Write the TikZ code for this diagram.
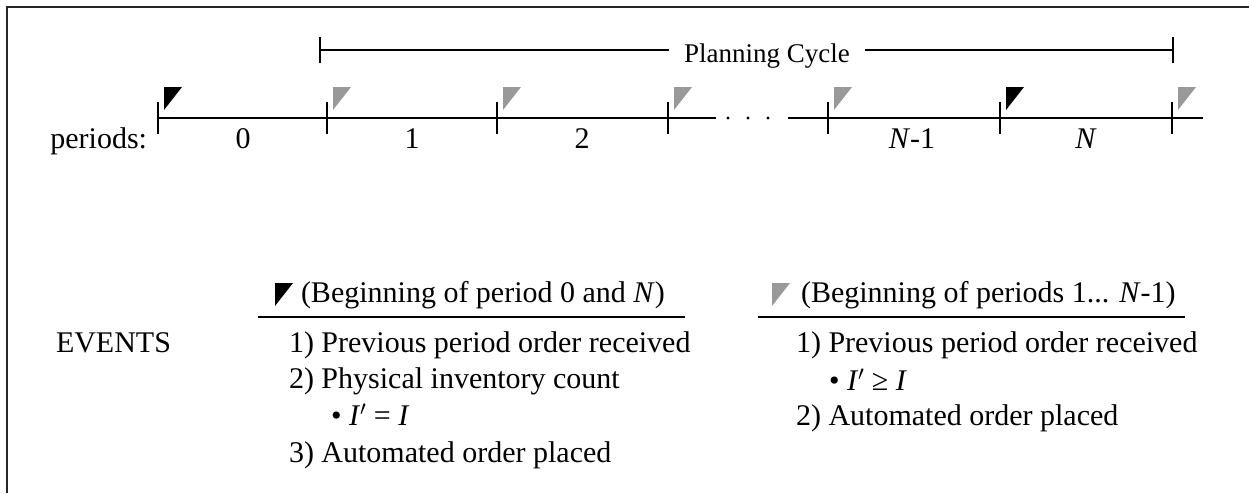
\documentclass[tikz,border=0pt]{standalone}
\usepackage{fontspec}
\setmainfont{Liberation Serif}
\usepackage{tikz}
\usetikzlibrary{positioning}

\begin{document}
\begin{tikzpicture}[x=1pt, y=-1pt, line width=2pt,
  every node/.style={font=\fontsize{30}{36}\selectfont, inner sep=0pt},
  tick/.style={line width=2.5pt},
  flagblack/.style={fill=black},
  flaggray/.style={fill=black!40}]
\useasboundingbox (0,0) rectangle (1249,493);

% frame
\draw[line width=2.5pt, black!85] (7,493) -- (7,7) -- (1249,7);

% planning cycle
\coordinate (PCa) at (320,50);
\coordinate (PCb) at (1173,50);
\node[font=\fontsize{27}{32}\selectfont, inner xsep=14pt, anchor=base](PC) at (767,62) {Planning Cycle};
\draw (PCa) -- (PC.west |- PCa);
\draw (PC.east |- PCb) -- (PCb);
\draw[tick] ([yshift=13pt]PCa) -- ([yshift=-13pt]PCa);
\draw[tick] ([yshift=13pt]PCb) -- ([yshift=-13pt]PCb);

% time line
\coordinate (T0) at ( 158,118);
\coordinate (T1) at ( 327,118);
\coordinate (T2) at ( 497,118);
\coordinate (T3) at ( 668,118);
\coordinate (T4) at ( 828,118);
\coordinate (T5) at (1000,118);
\coordinate (T6) at (1172,118);
\coordinate (gapL) at ( 716,118);
\coordinate (gapR) at ( 788,118);
\coordinate (tEnd) at (1203,118);

\draw (T0) -- (gapL);
\draw (gapR) -- (tEnd);
\foreach \x in {728,748,768}
  \fill (\x,118) circle (1.6pt);

\foreach \t/\c in {T0/flagblack, T1/flaggray, T2/flaggray, T3/flaggray,
                   T4/flaggray, T5/flagblack, T6/flaggray}{
  \draw[tick] ([yshift=16pt]\t) -- ([yshift=-16pt]\t);
  \fill[\c] ([xshift=6pt,yshift=31pt]\t) -- ++(18,0) -- ++(-18,23) -- cycle;
}

\node[anchor=base east](periods) at (148,148) {periods:};
\node[anchor=base](P0) at ( 243,148) {0};
\node[anchor=base](P1) at ( 412,148) {1};
\node[anchor=base](P2) at ( 582,148) {2};
\node[anchor=base](PN1) at ( 912,148) {\textit{N}-1};
\node[anchor=base](PN) at (1086,148) {\textit{N}};

% events
\node[anchor=base west](events) at (55,352) {EVENTS};

\fill[flagblack] (275,283) -- (293,283) -- (275,306) -- cycle;
\node[anchor=base west](headA) at (300,302) {(Beginning of period 0 and \textit{N})};
\draw (258,317) -- (685,317);

\node[anchor=base west](A1) at (288,352) {1) Previous period order received};
\node[anchor=base west](A2) at (288,388) {2) Physical inventory count};
\node[anchor=base west](A2b) at (330,425) {• \textit{I}$'$ = \textit{I}};
\node[anchor=base west](A3) at (288,462) {3) Automated order placed};

\fill[flaggray] (772,283) -- (790,283) -- (772,306) -- cycle;
\node[anchor=base west](headB) at (800,302) {(Beginning of periods 1... \textit{N}-1)};
\draw (758,317) -- (1185,317);

\node[anchor=base west](B1) at (795,352) {1) Previous period order received};
\node[anchor=base west](B1b) at (828,390) {• \textit{I}$'$ ≥ \textit{I}};
\node[anchor=base west](B2) at (795,425) {2) Automated order placed};
\end{tikzpicture}
\end{document}
